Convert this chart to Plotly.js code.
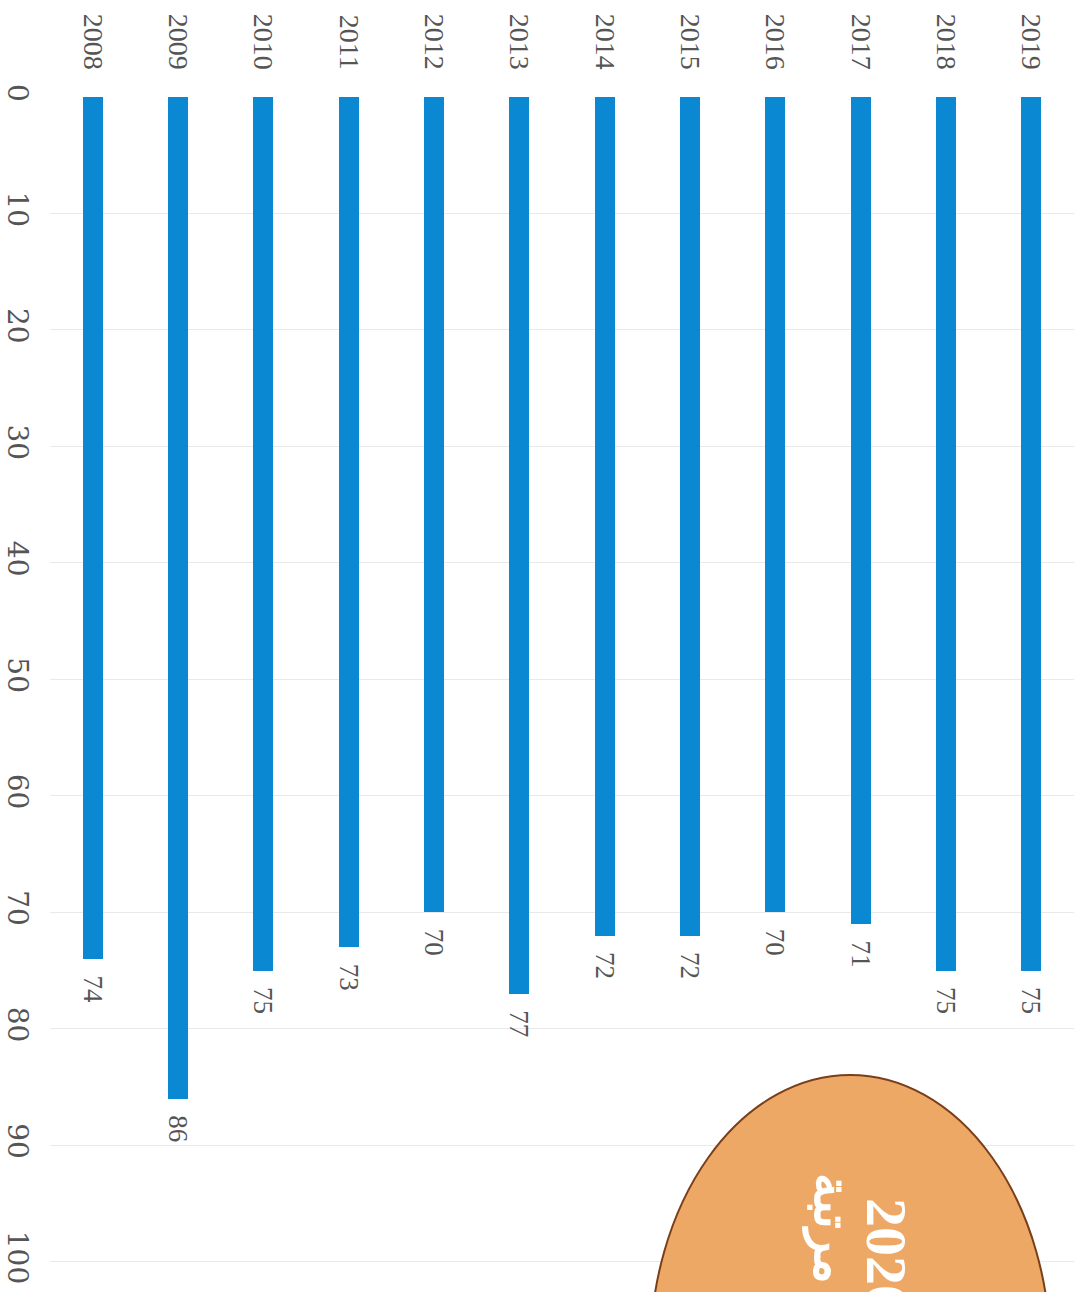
<!DOCTYPE html>
<html>
<head>
<meta charset="utf-8">
<script src="https://cdn.plot.ly/plotly-3.0.1.min.js"></script>
<style>html,body{margin:0;padding:0;background:#fff;}#chart{width:1074px;height:1292px;}</style>
</head>
<body>
<div id="chart"></div>
<script>
const years = ['2008','2009','2010','2011','2012','2013','2014','2015','2016','2017','2018','2019'];
const ranks = [74, 86, 75, 73, 70, 77, 72, 72, 70, 71, 75, 75];
const yTicks = [0,10,20,30,40,50,60,70,80,90,100];
const badgeYear = '2020';
const badgeWord = 'مرتبة';

const trace = {
  type: 'bar',
  x: years,
  y: ranks,
  width: 0.235,
  marker: {color: '#0a88d2'},
  text: ranks.map(v => '\u00a0\u00a0' + v),
  textposition: 'outside',
  textangle: 90,
  constraintext: 'none',
  cliponaxis: false,
  textfont: {family: 'serif', size: 27, color: '#555555'},
  hoverinfo: 'none'
};

const layout = {
  width: 1074, height: 1292,
  margin: {l: 50, r: 0, t: 97, b: 0},
  paper_bgcolor: '#ffffff', plot_bgcolor: '#ffffff',
  showlegend: false,
  bargap: 0,
  xaxis: {
    type: 'category', side: 'top', tickangle: 90,
    showgrid: false, zeroline: false, showline: false, ticks: '',
    ticklabelstandoff: 22,
    tickfont: {family: 'Times New Roman', size: 28, color: '#555555'}
  },
  yaxis: {
    range: [102.6, 0], tickvals: yTicks, ticktext: yTicks.map(String),
    tickangle: 90, showgrid: true, gridcolor: '#e9e9e9', gridwidth: 1,
    zeroline: false, showline: false, ticks: '',
    ticklabelstandoff: 13,
    tickfont: {family: 'DejaVu Serif', size: 28, color: '#555555'}
  },
  shapes: [{
    type: 'circle', xref: 'paper', yref: 'paper', layer: 'above',
    x0: 0.586, x1: 0.977, y0: -0.287, y1: 0.1816,
    fillcolor: '#eea866', line: {color: '#7a3f1a', width: 2}
  }],
  annotations: [
    {xref: 'paper', yref: 'paper', x: 0.850, y: -0.020, text: '<b>' + badgeYear + '</b>',
     showarrow: false, textangle: 90,
     font: {family: 'Liberation Serif', size: 58, color: '#ffffff'}},
    {xref: 'paper', yref: 'paper', x: 0.801, y: 0.005, text: '<b>' + badgeWord + '</b>',
     showarrow: false, textangle: 90,
     font: {family: 'Noto Sans', size: 50, color: '#ffffff'}}
  ]
};

Plotly.newPlot('chart', [trace], layout, {displayModeBar: false, staticPlot: true});
</script>
</body>
</html>
